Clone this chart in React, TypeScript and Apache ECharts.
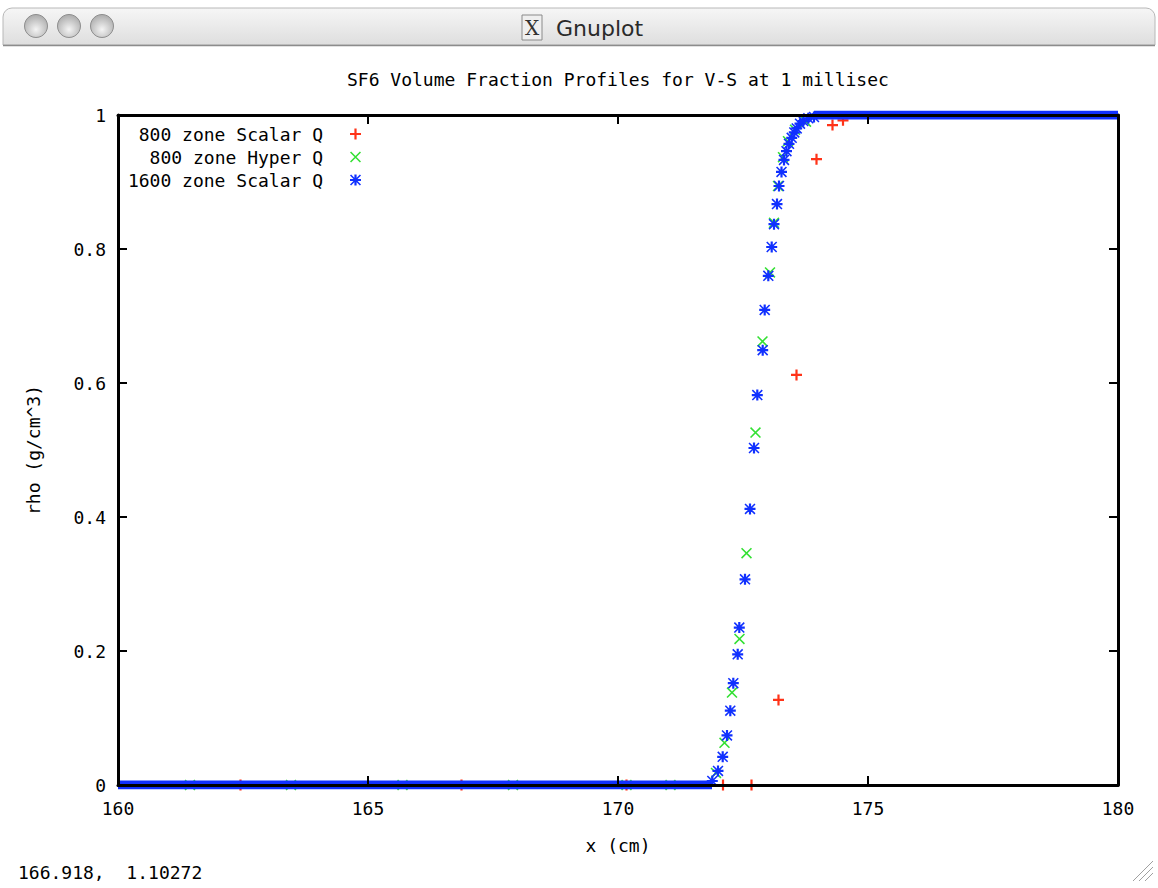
import React, { useEffect, useRef } from 'react';
import * as echarts from 'echarts';

// ---- data ----
const xTicks = [160, 165, 170, 175, 180];
const yTicks = [0, 0.2, 0.4, 0.6, 0.8, 1];

const scalar800: number[][] = [
  [162.45, 0], [166.87, 0], [170.17, 0], [172.1, 0], [172.67, 0],
  [173.21, 0.127], [173.57, 0.612], [173.97, 0.934], [174.29, 0.985], [174.5, 0.992],
];

const hyper800: number[][] = [
  [161.44, 0], [163.46, 0], [165.69, 0], [167.9, 0], [170.17, 0], [171.05, 0],
  [171.96, 0.018], [172.13, 0.063], [172.28, 0.138], [172.43, 0.218], [172.57, 0.346],
  [172.75, 0.526], [172.89, 0.662], [173.04, 0.765], [173.12, 0.839], [173.2, 0.894],
  [173.3, 0.937], [173.4, 0.961], [173.54, 0.978], [173.76, 0.99],
];

const scalar1600: number[][] = [
  [171.886, 0.006], [172.0, 0.021], [172.094, 0.042], [172.18, 0.074], [172.246, 0.111],
  [172.306, 0.152], [172.394, 0.195], [172.426, 0.235], [172.54, 0.307], [172.64, 0.412],
  [172.72, 0.503], [172.786, 0.582], [172.894, 0.649], [172.934, 0.709], [173.006, 0.76],
  [173.074, 0.803], [173.12, 0.837], [173.18, 0.867], [173.22, 0.894], [173.27, 0.915],
  [173.32, 0.933], [173.37, 0.946], [173.42, 0.957], [173.474, 0.966], [173.526, 0.974],
  [173.574, 0.98], [173.64, 0.987], [173.706, 0.991], [173.806, 0.995], [173.92, 0.997],
];

// dense 1600-zone plateaus that merge into a continuous band
const scalar1600BandLow: number[][] = [[160, 0], [171.88, 0]];
const scalar1600BandHigh: number[][] = [[173.92, 1], [180, 1]];

const seriesNames = ['800 zone Scalar Q', '800 zone Hyper Q', '1600 zone Scalar Q'];
const titleText = 'SF6 Volume Fraction Profiles for V-S at 1 millisec';
const statusText = '166.918,  1.10272';

const RED = '#ff3318';
const GREEN = '#33e033';
const BLUE = '#1030ff';
const MONO = "'DejaVu Sans Mono', 'Liberation Mono', monospace";

const PLUS = 'path://M4,0H6V4H10V6H6V10H4V6H0V4H4Z';
const CROSS = 'path://M0,1L1,0L10,9L9,10ZM9,0L10,1L1,10L0,9Z';
const STAR = 'path://M4,0H6V4H10V6H6V10H4V6H0V4H4ZM0,1L1,0L10,9L9,10ZM9,0L10,1L1,10L0,9Z';

export default function App() {
  const ref = useRef<HTMLDivElement>(null);
  useEffect(() => {
    if (!ref.current) return;
    const chart = echarts.init(ref.current, null, { renderer: 'svg' });
    const axisLine = { show: true, onZero: false, lineStyle: { color: '#000', width: 3 } };
    const axisTick = { show: true, inside: true, length: 9, lineStyle: { color: '#000', width: 2 } };
    const labelStyle = { color: '#000', fontFamily: MONO, fontSize: 18 };
    const icons = [PLUS, CROSS, STAR];
    const colors = [RED, GREEN, BLUE];
    const legendTops = [125, 148, 171];

    const option: any = {
      animation: false,
      backgroundColor: '#fff',
      title: {
        text: titleText,
        left: 347,
        top: 70,
        padding: 0,
        textStyle: { fontFamily: MONO, fontSize: 18, fontWeight: 'normal', color: '#000' },
      },
      legend: seriesNames.map((n, i) => ({
        data: [{ name: n, icon: icons[i], itemStyle: { color: colors[i] } }],
        right: 1158 - 361,
        top: legendTops[i],
        align: 'right',
        orient: 'vertical',
        itemWidth: 11,
        itemHeight: 11,
        padding: 0,
        selectedMode: false,
        textStyle: { fontFamily: MONO, fontSize: 18, color: '#000', padding: [0, 22, 0, 0] },
      })),
      grid: { left: 118, top: 115, width: 1000, height: 670 },
      xAxis: [
        {
          type: 'value', min: xTicks[0], max: xTicks[xTicks.length - 1], interval: xTicks[1] - xTicks[0],
          position: 'bottom', z: 10,
          axisLine, axisTick,
          axisLabel: { ...labelStyle, margin: 14 },
          splitLine: { show: false },
          name: 'x (cm)', nameLocation: 'middle', nameGap: 51,
          nameTextStyle: labelStyle,
        },
        {
          type: 'value', min: xTicks[0], max: xTicks[xTicks.length - 1], interval: xTicks[1] - xTicks[0],
          position: 'top', z: 10,
          axisLine, axisTick,
          axisLabel: { show: false },
          splitLine: { show: false },
        },
      ],
      yAxis: [
        {
          type: 'value', min: yTicks[0], max: yTicks[yTicks.length - 1], interval: yTicks[1] - yTicks[0],
          position: 'left', z: 10,
          axisLine, axisTick,
          axisLabel: {
            ...labelStyle, margin: 12,
            formatter: (v: number) => (v === 0 ? '0' : v === 1 ? '1' : v.toFixed(1)),
          },
          splitLine: { show: false },
          name: 'rho (g/cm^3)', nameLocation: 'middle', nameGap: 76,
          nameTextStyle: labelStyle,
        },
        {
          type: 'value', min: yTicks[0], max: yTicks[yTicks.length - 1], interval: yTicks[1] - yTicks[0],
          position: 'right', z: 10,
          axisLine, axisTick,
          axisLabel: { show: false },
          splitLine: { show: false },
        },
      ],
      series: [
        {
          name: seriesNames[0], type: 'scatter', data: scalar800,
          symbol: PLUS, symbolSize: 11, itemStyle: { color: RED, opacity: 1 }, z: 2,
        },
        {
          name: seriesNames[1], type: 'scatter', data: hyper800,
          symbol: CROSS, symbolSize: 11, itemStyle: { color: GREEN, opacity: 1 }, z: 3,
        },
        {
          name: 'band-low', type: 'line', data: scalar1600BandLow, showSymbol: false, symbol: 'none',
          lineStyle: { color: BLUE, width: 9 }, z: 4, silent: true,
        },
        {
          name: 'band-high', type: 'line', data: scalar1600BandHigh, showSymbol: false, symbol: 'none',
          lineStyle: { color: BLUE, width: 9 }, z: 4, silent: true,
        },
        {
          name: seriesNames[2], type: 'scatter', data: scalar1600,
          symbol: STAR, symbolSize: 11, itemStyle: { color: BLUE, opacity: 1 }, z: 5,
        },
      ],
      graphic: [
        {
          type: 'rect', z: 100,
          shape: { x: 3, y: 8, width: 1152, height: 37, r: [9, 9, 0, 0] },
          style: {
            fill: new echarts.graphic.LinearGradient(0, 0, 0, 1, [
              { offset: 0, color: '#f6f6f6' },
              { offset: 1, color: '#dedede' },
            ]),
            stroke: '#b8b8b8', lineWidth: 1,
          },
        },
        {
          type: 'line', z: 101,
          shape: { x1: 3, y1: 45.5, x2: 1155, y2: 45.5 },
          style: { stroke: '#8c8c8c', lineWidth: 1.5 },
        },
        ...[36, 69, 102].map((cx) => ({
          type: 'circle', z: 101,
          shape: { cx, cy: 26, r: 11.5 },
          style: {
            fill: new echarts.graphic.RadialGradient(0.5, 0.65, 0.6, [
              { offset: 0, color: '#f4f4f4' },
              { offset: 1, color: '#b0b0b0' },
            ]),
            stroke: '#8e8e8e', lineWidth: 1,
          },
        })),
        {
          type: 'rect', z: 101,
          shape: { x: 522, y: 15, width: 20, height: 25 },
          style: { fill: '#efefef', stroke: '#8a8a8a', lineWidth: 1 },
        },
        {
          type: 'text', z: 102, x: 532, y: 28,
          style: {
            text: 'X', fill: '#333', font: "20px 'DejaVu Serif', serif",
            textAlign: 'center', textVerticalAlign: 'middle',
          },
        },
        {
          type: 'text', z: 102, x: 556, y: 28,
          style: {
            text: 'Gnuplot', fill: '#2a2a2a', font: "22px 'DejaVu Sans', sans-serif",
            textAlign: 'left', textVerticalAlign: 'middle',
          },
        },
        {
          type: 'text', z: 102, x: 18, y: 872,
          style: {
            text: statusText, fill: '#000', font: `18px ${MONO}`,
            textAlign: 'left', textVerticalAlign: 'middle',
          },
        },
        ...[0, 6, 12].map((d) => ({
          type: 'line', z: 101,
          shape: { x1: 1133 + d, y1: 881, x2: 1153, y2: 861 + d },
          style: { stroke: '#a0a0a0', lineWidth: 1 },
        })),
      ],
    };
    chart.setOption(option);
    return () => chart.dispose();
  }, []);
  return (
    <div
      ref={ref}
      style={{ position: 'fixed', left: 0, top: 0, width: 1158, height: 888, background: '#fff' }}
    />
  );
}
